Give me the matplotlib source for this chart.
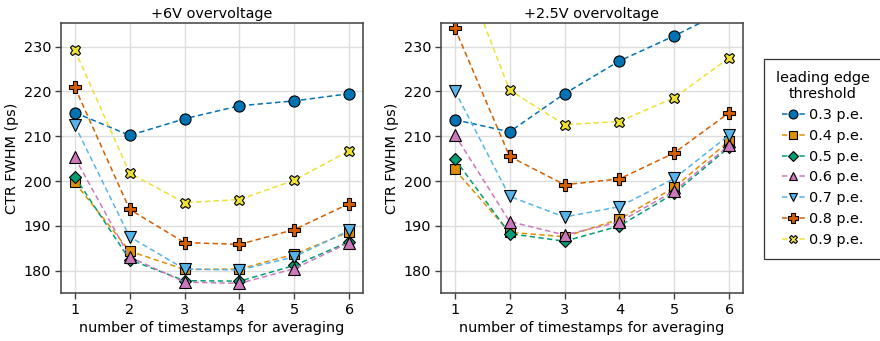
import numpy as np
import matplotlib.pyplot as plt

# number of timestamps averaged
n_stamps = [1, 2, 3, 4, 5, 6]

# leading edge thresholds (p.e.)
thresholds = ["0.3 p.e.", "0.4 p.e.", "0.5 p.e.", "0.6 p.e.", "0.7 p.e.", "0.8 p.e.", "0.9 p.e."]

# CTR FWHM (ps) at +6V overvoltage
ctr_6v_03 = [215.3, 210.2, 213.9, 216.8, 217.9, 219.5]
ctr_6v_04 = [199.7, 184.4, 180.3, 180.4, 183.7, 188.7]
ctr_6v_05 = [201.0, 182.5, 177.8, 177.7, 181.2, 186.5]
ctr_6v_06 = [205.3, 183.1, 177.5, 177.2, 180.5, 186.3]
ctr_6v_07 = [212.5, 187.6, 180.4, 180.2, 183.1, 189.0]
ctr_6v_08 = [221.0, 193.7, 186.3, 185.9, 189.2, 195.0]
ctr_6v_09 = [229.3, 201.8, 195.2, 195.9, 200.2, 206.8]

# CTR FWHM (ps) at +2.5V overvoltage
ctr_25v_03 = [213.7, 211.0, 219.5, 226.8, 232.4, 238.5]
ctr_25v_04 = [202.6, 188.6, 187.6, 191.5, 198.6, 209.0]
ctr_25v_05 = [205.0, 188.3, 186.6, 190.0, 197.3, 207.6]
ctr_25v_06 = [210.4, 191.0, 188.0, 190.9, 197.8, 208.0]
ctr_25v_07 = [220.2, 196.6, 192.0, 194.3, 200.6, 210.3]
ctr_25v_08 = [234.2, 205.5, 199.2, 200.5, 206.3, 215.3]
ctr_25v_09 = [252.0, 220.3, 212.6, 213.3, 218.6, 227.5]

panels = [
    ("+6V overvoltage", [ctr_6v_03, ctr_6v_04, ctr_6v_05, ctr_6v_06, ctr_6v_07, ctr_6v_08, ctr_6v_09]),
    ("+2.5V overvoltage", [ctr_25v_03, ctr_25v_04, ctr_25v_05, ctr_25v_06, ctr_25v_07, ctr_25v_08, ctr_25v_09]),
]

colors = ["#0173b2", "#de8f05", "#029e73", "#cc78bc", "#56b4e9", "#d55e00", "#ece133"]
markers = ["o", "s", "D", "^", "v", "P", "X"]
msizes = [8, 7.5, 6, 8, 8, 8.5, 7.5]

plt.rcParams["font.family"] = "DejaVu Sans"
plt.rcParams["font.size"] = 10.4

fig = plt.figure(figsize=(8.8, 3.41), dpi=100)
ax_left = fig.add_axes([0.0693, 0.140, 0.3432, 0.7917])
ax_right = fig.add_axes([0.5011, 0.140, 0.3432, 0.7917])

for ax, (title, series) in zip([ax_left, ax_right], panels):
    for vals, lab, c, m, ms in zip(series, thresholds, colors, markers, msizes):
        ax.plot(n_stamps, vals, linestyle="--", dashes=(3.5, 2.2), color=c, lw=1.1,
                marker=m, markersize=ms, markerfacecolor=c, markeredgecolor="black",
                markeredgewidth=0.8, label=lab, clip_on=True)
    ax.set_xlim(0.75, 6.25)
    ax.set_ylim(175, 235.2)
    ax.set_xticks(n_stamps)
    ax.set_yticks([180, 190, 200, 210, 220, 230])
    ax.grid(True, color="#dddddd", lw=1)
    ax.set_axisbelow(True)
    ax.tick_params(direction="out", length=4, width=1, color="0.25", labelsize=10.4, pad=3)
    for s in ax.spines.values():
        s.set_color("0.25")
        s.set_linewidth(1.1)
    ax.set_title(title, fontsize=10.4, pad=4)
    ax.set_xlabel("number of timestamps for averaging", fontsize=10.4, labelpad=3)
    ax.set_ylabel("CTR FWHM (ps)", fontsize=10.4, labelpad=3)

handles, labels = ax_left.get_legend_handles_labels()
leg = fig.legend(handles, labels, title="leading edge\nthreshold", loc="upper left",
                 bbox_to_anchor=(764 / 880, 1 - 59 / 341), borderaxespad=0,
                 fontsize=10.4, title_fontsize=10.4, markerscale=0.8,
                 frameon=True, fancybox=False, edgecolor="black", handlelength=1.6,
                 handletextpad=0.3, labelspacing=0.48, borderpad=0.8)
leg.get_title().set_multialignment("center")
leg.get_frame().set_linewidth(0.9)

fig.savefig("out.png", dpi=100)
